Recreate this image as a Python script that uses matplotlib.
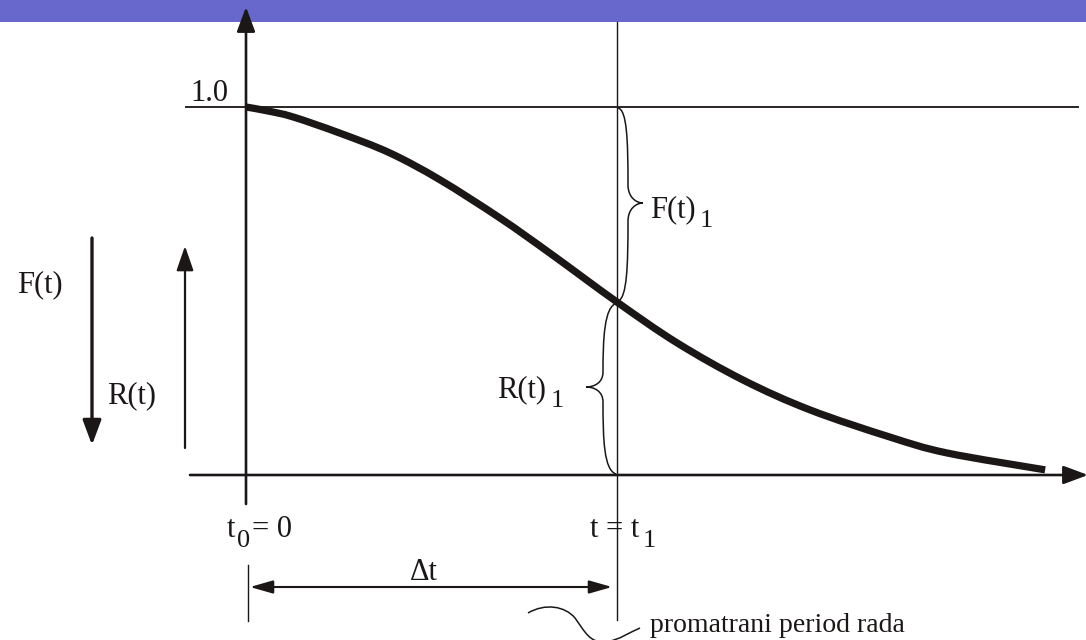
import matplotlib
matplotlib.use('Agg')
import matplotlib.pyplot as plt
from matplotlib.path import Path
from matplotlib.patches import PathPatch, Rectangle

# ---- data ----
t_values = [0.0, 0.06, 0.127, 0.253, 0.388, 0.523, 0.685, 0.819, 1.0,
            1.162, 1.340, 1.520, 1.736, 1.889, 2.154]
R_values = [1.0, 0.989, 0.973, 0.929, 0.875, 0.802, 0.698, 0.603, 0.470,
            0.359, 0.258, 0.177, 0.103, 0.060, 0.014]
t1 = 1.0
R_max = 1.0
y_label = "1.0"
F_label = "F(t)"
R_label = "R(t)"
F1_label = "F(t)"
R1_label = "R(t)"
sub1 = "1"
t0_label = ("t", "0", "= 0")
t1_label = ("t = t", "1")
dt_label = "\u0394t"
period_label = "promatrani period rada"

# ---- layout helpers (pixel -> data) ----
W, H = 1086, 640
X0, XS = 246.0, 371.0
Y0, YS = 475.0, 368.0


def px(x):
    return (x - X0) / XS


def py(y):
    return (Y0 - y) / YS


INK = '#1c1717'
FONT = 'Liberation Serif'
FS = 22
FS_SUB = 19

fig = plt.figure(figsize=(W / 100, H / 100), dpi=100)
ax = fig.add_axes([0, 0, 1, 1])
ax.set_xlim(px(0), px(W))
ax.set_ylim(py(H), py(0))
ax.axis('off')

# top band
ax.add_patch(Rectangle((0, 1 - 22 / H), 1, 22 / H, transform=ax.transAxes,
                       facecolor='#6767CC', edgecolor='none', zorder=1))

# vertical line at t1
ax.plot([t1, t1], [py(22), py(620)], color=INK, lw=1.0, zorder=2)
# horizontal line at R = 1
ax.plot([px(186), px(1078)], [R_max, R_max], color='#2a2525', lw=1.4, zorder=2)

# axes with arrows
ax.annotate('', xy=(0, py(7)), xytext=(0, py(504)),
            arrowprops=dict(arrowstyle='-|>,head_length=0.75,head_width=0.28',
                            mutation_scale=20, lw=1.9, color=INK,
                            shrinkA=0, shrinkB=0), zorder=5, annotation_clip=False)
ax.annotate('', xy=(px(1088), 0), xytext=(px(190), 0),
            arrowprops=dict(arrowstyle='-|>,head_length=0.75,head_width=0.28',
                            mutation_scale=20, lw=1.9, color=INK,
                            shrinkA=0, shrinkB=0), zorder=5, annotation_clip=False)

# curve: smooth rendering through the read points (Catmull-Rom as cubic Bezier)
pts = list(zip(t_values, R_values))
verts = [pts[0]]
codes = [Path.MOVETO]
for i in range(len(pts) - 1):
    p0 = pts[i - 1] if i > 0 else pts[i]
    p1 = pts[i]
    p2 = pts[i + 1]
    p3 = pts[i + 2] if i + 2 < len(pts) else pts[i + 1]
    c1 = (p1[0] + (p2[0] - p0[0]) / 6, p1[1] + (p2[1] - p0[1]) / 6)
    c2 = (p2[0] - (p3[0] - p1[0]) / 6, p2[1] - (p3[1] - p1[1]) / 6)
    verts += [c1, c2, p2]
    codes += [Path.CURVE4] * 3
ax.add_patch(PathPatch(Path(verts, codes), facecolor='none', edgecolor=INK,
                       lw=5.2, capstyle='butt', joinstyle='round', zorder=4))

# F(t) down arrow and R(t) up arrow on the left
ax.annotate('', xy=(px(92), py(445)), xytext=(px(92), py(238)),
            arrowprops=dict(arrowstyle='-|>,head_length=0.75,head_width=0.28',
                            mutation_scale=20, lw=2.4, color=INK,
                            shrinkA=0, shrinkB=0))
ax.annotate('', xy=(px(185), py(246)), xytext=(px(185), py(448)),
            arrowprops=dict(arrowstyle='-|>,head_length=0.75,head_width=0.26',
                            mutation_scale=20, lw=1.6, color=INK,
                            shrinkA=0, shrinkB=0))

# braces
def brace(pts_px):
    v = [(px(x), py(y)) for x, y in pts_px]
    c = [Path.MOVETO] + [Path.CURVE4] * (len(v) - 1)
    ax.add_patch(PathPatch(Path(v, c), facecolor='none', edgecolor=INK,
                           lw=1.1, zorder=3))


brace([(618, 108), (627, 110), (628, 140), (628, 185),
       (628, 197), (636, 203), (643, 203),
       (636, 203), (628, 209), (628, 221),
       (628, 266), (627, 298), (618, 301)])
brace([(617, 303), (604, 306), (603, 340), (603, 372),
       (603, 383), (594, 387), (586, 387),
       (594, 387), (603, 391), (603, 402),
       (603, 440), (604, 470), (616, 474)])

# wavy pointer near the period label
brace([(528, 613), (545, 603), (565, 606), (575, 618),
       (585, 632), (590, 643), (605, 642),
       (620, 640), (630, 632), (640, 628)])

# small tick under origin and delta-t arrow
ax.plot([px(248), px(248)], [py(565), py(621)], color=INK, lw=1.0)
ax.annotate('', xy=(px(612), py(587)), xytext=(px(250), py(587)),
            arrowprops=dict(arrowstyle='<|-|>,head_length=0.7,head_width=0.2',
                            mutation_scale=20, lw=1.5, color=INK,
                            shrinkA=0, shrinkB=0))

# texts
def txt(x, y, s, size=FS):
    ax.text(px(x), py(y), s, fontsize=size, family=FONT, color=INK,
            ha='left', va='baseline', zorder=6)


txt(190, 101, y_label)
txt(17, 292, F_label)
txt(107, 403, R_label)
txt(650, 217, F1_label)
txt(700, 227, sub1, FS_SUB)
txt(497, 397, R1_label)
txt(551, 407, sub1, FS_SUB)
txt(227, 537, t0_label[0])
txt(237, 547, t0_label[1], FS_SUB)
txt(252, 537, t0_label[2])
txt(590, 537, t1_label[0])
txt(643, 547, t1_label[1], FS_SUB)
txt(410, 580, dt_label)
txt(650, 632, period_label, 20)

fig.savefig('out.png', dpi=100, facecolor='white')
